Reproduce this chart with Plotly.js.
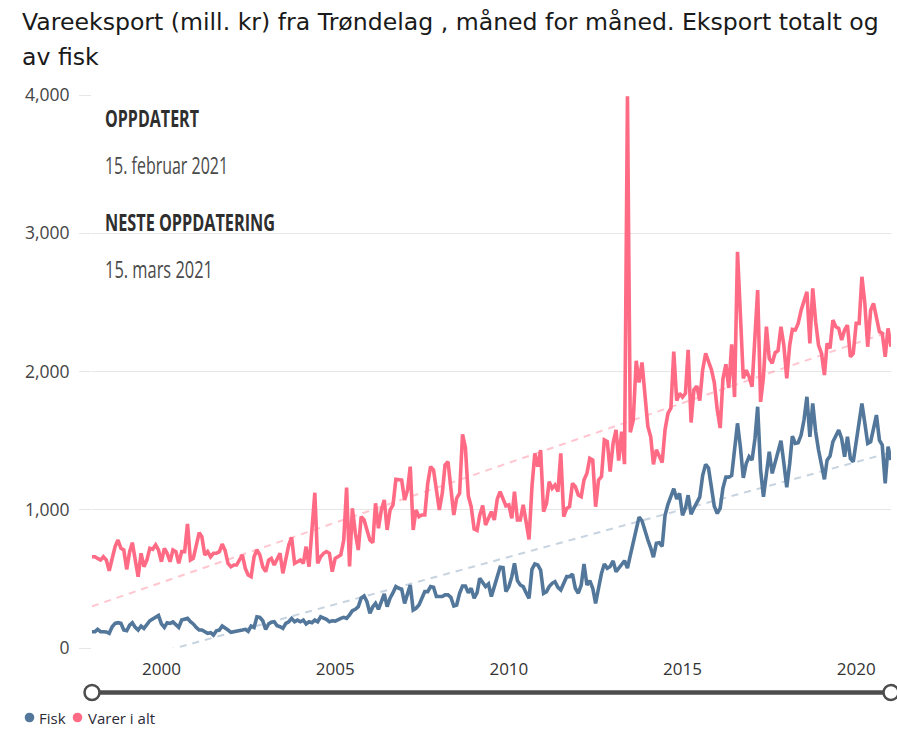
<!DOCTYPE html>
<html>
<head>
<meta charset="utf-8">
<script src="https://cdn.plot.ly/plotly-3.0.1.min.js"></script>
<style>
html,body{margin:0;padding:0;background:#fff;}
#chart{width:897px;height:735px;}
</style>
</head>
<body>
<div id="chart"></div>
<script>
// Monthly values, Jan 1998 - Jan 2021 (mill. kr)
const startYear = 1998;
const startMonth = 1;

const fisk = [
118,118,135,118,118,116,106,154,178,183,178,130,
125,166,183,149,130,159,142,166,197,210,227,236,
174,149,183,178,188,166,149,202,207,214,190,174,
149,130,130,118,106,111,94,125,130,159,140,130,
113,116,123,128,130,135,120,159,149,226,222,197,
135,174,186,190,161,154,142,178,190,214,190,202,
190,202,174,190,183,202,190,226,217,207,190,197,
195,207,214,222,215,240,270,280,299,360,376,335,
251,299,323,280,335,391,299,360,400,444,432,425,
323,384,456,275,287,311,360,408,408,444,439,372,
372,372,384,384,367,304,311,396,449,449,400,432,
360,400,504,470,444,463,372,444,528,584,581,408,
444,516,613,487,456,444,400,359,569,608,601,564,
396,408,444,468,480,439,420,468,516,516,535,432,
396,456,608,456,487,432,323,432,540,608,576,589,
630,552,573,604,631,578,670,762,855,947,920,841,
783,723,657,757,762,736,960,1039,1105,1152,1078,1118,
960,1012,1105,968,1012,1057,1091,1249,1328,1302,1144,1026,
973,1012,1157,1236,1236,1249,1434,1625,1450,1230,1335,1384,
1359,1516,1745,1287,1094,1287,1420,1263,1335,1412,1499,1340,
1162,1335,1533,1480,1485,1540,1649,1817,1528,1769,1564,1432,
1335,1220,1359,1388,1492,1540,1576,1516,1384,1528,1371,1347,
1480,1637,1769,1625,1480,1492,1600,1685,1504,1468,1191,1456,
1359
];

const varerIAlt = [
660,660,648,636,660,636,559,636,733,781,721,709,
569,697,762,636,516,685,588,636,721,714,745,709,
624,721,685,624,709,697,612,697,697,897,636,648,
733,834,805,673,697,660,685,685,697,752,704,612,
588,600,600,636,673,576,528,516,660,709,673,588,
552,636,648,600,636,685,540,636,745,800,612,624,
636,612,733,588,853,1123,612,660,685,697,685,552,
648,660,673,781,1160,590,1010,830,709,950,926,854,
781,762,1047,866,998,1071,854,998,1035,1220,1215,1215,
1071,1143,1312,854,998,950,962,962,1191,1312,1288,1143,
998,1119,1324,1348,1143,962,1083,1119,1545,1450,1100,1022,
860,850,960,1030,890,938,986,926,1076,1131,1083,1027,
1035,938,1131,926,926,1035,914,786,1167,1408,1312,1432,
986,1047,1203,1155,1179,1131,1408,950,1010,1022,1191,1167,
1107,1095,1215,1264,1372,1360,1022,1215,1240,1505,1493,1276,
1480,1578,1355,1565,1330,3990,1560,1650,2078,1920,2065,1841,
1605,1526,1328,1434,1394,1341,1578,1697,1736,2144,1789,1842,
1815,1842,2157,1631,1868,1894,1789,2013,2131,2065,2013,1920,
1723,1591,1947,2052,1881,2197,1815,2866,2330,1950,2010,1962,
1890,2251,2589,1780,1962,2324,2095,2059,2136,2150,2324,2191,
1950,2191,2304,2300,2348,2444,2517,2577,2203,2601,2360,2191,
2131,1974,2203,2167,2372,2324,2312,2227,2300,2336,2107,2131,
2348,2348,2685,2493,2179,2444,2493,2372,2288,2276,2107,2312,
2179
];

const seriesNames = ["Fisk", "Varer i alt"];
const colors = ["#52779a", "#ff6a84"];
const trendColors = ["rgba(82,119,154,0.32)", "rgba(255,106,132,0.38)"];
const yTickVals = [0, 1000, 2000, 3000, 4000];
const yTickText = ["0", "1,000", "2,000", "3,000", "4,000"];
const xTickYears = ["2000", "2005", "2010", "2015", "2020"];
const infoTexts = ["OPPDATERT", "15. februar 2021", "NESTE OPPDATERING", "15. mars 2021"];
const titleLines = ["Vareeksport (mill. kr) fra Trøndelag , måned for måned. Eksport totalt og", "av fisk"];

// month dates
const dates = [];
for (let k = 0; k < fisk.length; k++) {
  const m = startMonth - 1 + k;
  const yy = startYear + Math.floor(m / 12);
  const mm = (m % 12) + 1;
  dates.push(yy + "-" + (mm < 10 ? "0" : "") + mm + "-01");
}

// least-squares linear trend over month index
function trend(vals) {
  const n = vals.length;
  let sx = 0, sy = 0, sxx = 0, sxy = 0;
  for (let i = 0; i < n; i++) { sx += i; sy += vals[i]; sxx += i * i; sxy += i * vals[i]; }
  const b = (n * sxy - sx * sy) / (n * sxx - sx * sx);
  const a = (sy - b * sx) / n;
  return [a, a + b * (n - 1)];
}

const allSeries = [fisk, varerIAlt];
const traces = [];
allSeries.forEach((vals, s) => {
  traces.push({
    x: [dates[0], dates[dates.length - 1]], y: trend(vals),
    mode: "lines", line: {color: trendColors[s], width: 2, dash: "7px,6px"},
    showlegend: false, hoverinfo: "skip"
  });
});
allSeries.forEach((vals, s) => {
  traces.push({
    x: dates, y: vals, mode: "lines", name: seriesNames[s],
    line: {color: colors[s], width: 3.6},
    showlegend: false
  });
});

const PL = 92, PT = 95, PW = 799, PH = 553;
const px2x = p => (p - PL) / PW;
const px2y = p => (PT + PH - p) / PH;

const sliderY = px2y(692.5);
const legendY = px2y(717.5);

const annotations = [];
// title, two lines
annotations.push({text: titleLines[0], xref: "paper", yref: "paper", x: px2x(20), y: px2y(22), xanchor: "left", yanchor: "middle",
  showarrow: false, font: {family: "DejaVu Sans, sans-serif", size: 23.6, color: "#1a1a1a"}});
annotations.push({text: titleLines[1], xref: "paper", yref: "paper", x: px2x(20), y: px2y(57), xanchor: "left", yanchor: "middle",
  showarrow: false, font: {family: "DejaVu Sans, sans-serif", size: 23.6, color: "#1a1a1a"}});
// info block
const infoY = [117, 164, 221.5, 268.5];
infoTexts.forEach((t, k) => {
  const bold = (k % 2 === 0);
  annotations.push({
    text: bold ? "<b>" + t + "</b>" : t, xref: "paper", yref: "paper",
    x: px2x(103), y: px2y(infoY[k]), xanchor: "left", yanchor: "middle", showarrow: false,
    font: {family: "Open Sans, sans-serif", size: 24, color: bold ? "#2e2e2e" : "#4a4a4a", weight: bold ? 800 : 400}
  });
});
// legend texts
const legendTextX = [37, 86];
seriesNames.forEach((nm, s) => {
  annotations.push({text: nm, xref: "paper", yref: "paper", x: px2x(legendTextX[s]), y: legendY,
    xanchor: "left", yanchor: "middle", showarrow: false,
    font: {family: "Open Sans, sans-serif", size: 15, color: "#2b2b38"}});
});

const shapes = [
  {type: "rect", xref: "paper", yref: "paper", x0: px2x(87), x1: px2x(296), y0: px2y(292), y1: px2y(90),
   fillcolor: "#fff", line: {width: 0}, layer: "between"},
  {type: "line", xref: "paper", yref: "paper", x0: 0, x1: 1, y0: sliderY, y1: sliderY,
   line: {color: "#4d4d4d", width: 4.5}}
];
[0, 1].forEach(xa => {
  shapes.push({type: "circle", xref: "paper", yref: "paper", xsizemode: "pixel", ysizemode: "pixel",
    xanchor: xa, yanchor: sliderY, x0: -7.5, x1: 7.5, y0: -7.5, y1: 7.5,
    fillcolor: "#fff", line: {color: "#4d4d4d", width: 2.5}});
});
const legendDotX = [29.5, 77.5];
seriesNames.forEach((nm, s) => {
  shapes.push({type: "circle", xref: "paper", yref: "paper", xsizemode: "pixel", ysizemode: "pixel",
    xanchor: px2x(legendDotX[s]), yanchor: legendY, x0: -4.8, x1: 4.8, y0: -4.8, y1: 4.8,
    fillcolor: colors[s], line: {width: 0}});
});

const layout = {
  width: 897, height: 735,
  margin: {l: PL, r: 897 - PL - PW, t: PT, b: 735 - PT - PH},
  paper_bgcolor: "#fff", plot_bgcolor: "#fff",
  xaxis: {
    type: "date",
    range: [dates[0], dates[dates.length - 1]],
    tickvals: xTickYears.map(y => y + "-01-01"),
    ticktext: xTickYears,
    showgrid: false, zeroline: false, showline: false,
    ticks: "", tickfont: {family: "Open Sans, sans-serif", size: 17, color: "#333"},
    ticklabelstandoff: 9
  },
  yaxis: {
    range: [0, 4000], tickvals: yTickVals, ticktext: yTickText,
    showgrid: true, gridcolor: "#e6e6e6", gridwidth: 1,
    zeroline: false, showline: false,
    ticks: "outside", ticklen: 12, tickcolor: "#e6e6e6", tickwidth: 1,
    tickfont: {family: "Open Sans, sans-serif", size: 17.5, color: "#444"},
    ticklabelstandoff: 6
  },
  showlegend: false,
  shapes: shapes,
  annotations: annotations
};

// target rendered widths (px) of the condensed info texts
const infoWidths = [94, 123, 170, 108];

Plotly.newPlot("chart", traces, layout, {staticPlot: true, displayModeBar: false}).then(gd => {
  const groups = gd.querySelectorAll(".annotation");
  groups.forEach(g => {
    const idx = parseInt(g.getAttribute("data-index"), 10);
    const k = idx - 2;
    if (k < 0 || k >= infoWidths.length) return;
    const el = g.querySelector("text.annotation-text");
    if (!el) return;
    const b0 = el.getBBox();
    el.setAttribute("textLength", infoWidths[k]);
    el.setAttribute("lengthAdjust", "spacingAndGlyphs");
    const b1 = el.getBBox();
    const x = parseFloat(el.getAttribute("x") || "0");
    el.setAttribute("x", x + (b0.x - b1.x));
  });
});
</script>
</body>
</html>
